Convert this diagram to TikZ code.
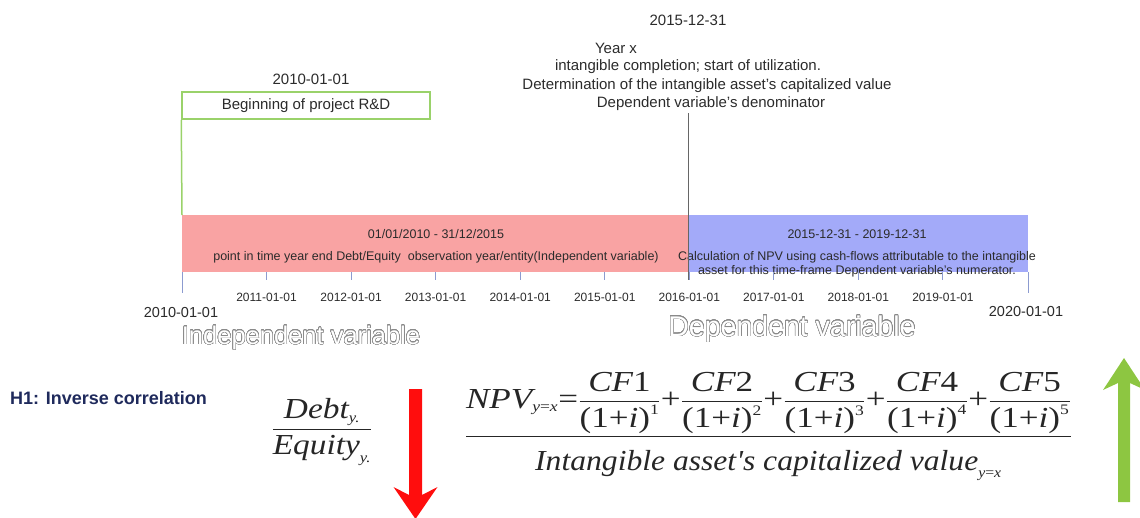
\documentclass[tikz,border=0pt]{standalone}
\usepackage{amsmath}
\usepackage{graphicx}
\usepackage{fontspec}
\setmainfont{Liberation Sans}
\newfontfamily\tnr{Liberation Serif}
\usepackage{contour}
\contourlength{0.5pt}
\contournumber{32}
\definecolor{barred}{HTML}{F9A3A3}
\definecolor{barblue}{HTML}{A3AAF9}
\definecolor{boxgreen}{HTML}{9AD26A}
\definecolor{tickc}{HTML}{8C9BD0}
\definecolor{navy}{HTML}{1F2A5C}
\definecolor{txt}{HTML}{2B2B2B}
\definecolor{linec}{HTML}{666666}
\definecolor{arrred}{HTML}{FF0D0D}
\definecolor{arrgreen}{HTML}{8DC641}
\definecolor{outl}{HTML}{8A8A8A}
\newcommand{\mi}[1]{\text{\tnr\itshape #1}}
\newcommand{\mr}[1]{\text{\tnr #1}}
\newcommand{\cf}[2]{\dfrac{\mi{CF}\mr{#1}}{\mr{(1+}\mi{i}\mr{)}^{\scriptscriptstyle\mr{#2}}}}
\tikzset{
  toptext/.style={text=txt, font=\fontsize{15}{18}\selectfont, inner sep=0pt},
  bartext/.style={text=txt, font=\fontsize{12.5}{15}\selectfont, inner sep=0pt},
  ticklabel/.style={text=txt, font=\fontsize{12}{14}\selectfont, inner sep=0pt},
  endlabel/.style={text=txt, font=\fontsize{14.5}{17}\selectfont, inner sep=0pt},
  outlined/.style={inner sep=0pt, text=white},
  tickline/.style={draw=tickc, line width=1pt},
  barbox/.style={draw=none, anchor=north west, inner sep=0pt, minimum height=57pt},
  formula/.style={inner sep=0pt, text=black!85},
}
\begin{document}
\begin{tikzpicture}[x=1pt,y=-1pt]
\useasboundingbox (0,0) rectangle (1140,517);

% bars
\node[barbox, fill=barred, minimum width=507pt] (redbar) at (182,215) {};
\node[barbox, fill=barblue, minimum width=339pt] (bluebar) at (689,215) {};

% bar texts
\node[bartext] (rt1) at (436,234) {01/01/2010 - 31/12/2015};
\node[bartext] (rt2) at (436,257) {point in time year end Debt/Equity\ \ observation year/entity(Independent variable)};
\node[bartext] (bt1) at (857,234) {2015-12-31 - 2019-12-31};
\node[bartext, align=center] (bt2) at (857,264.5) {Calculation of NPV using cash-flows attributable to the intangible\\[-1.5pt]asset for this time-frame Dependent variable's numerator.};

% ticks
\foreach \i/\lab in {1/2011,2/2012,3/2013,4/2014,5/2015,6/2016,7/2017,8/2018,9/2019}{
  \draw[tickline] (182+84.55*\i,272) -- (182+84.55*\i,280);
  \node[ticklabel] (tl\i) at (182+84.55*\i,297) {\lab-01-01};
}
\draw[tickline] (redbar.south west) -- ++(0,21);
\draw[tickline] (bluebar.south east) -- ++(0,21);
\node[endlabel] (l2010) at (181,313) {2010-01-01};
\node[endlabel] (l2020) at (1026,312) {2020-01-01};

% green box
\node[draw=boxgreen, line width=1.5pt, minimum width=248pt, minimum height=27pt, inner sep=0pt, toptext] (rd) at (306,105.5) {Beginning of project R\&D};
\node[toptext] (d2010) at (311,79) {2010-01-01};
\draw[boxgreen, line width=1.5pt] (rd.south west) -- (redbar.north west);

% year x block
\node[toptext] (d2015) at (688,20) {2015-12-31};
\node[toptext] (yx1) at (616,48) {Year x};
\node[toptext] (yx2) at (688,67) {intangible completion; start of utilization.};
\node[toptext] (yx3) at (707,86) {Determination of the intangible asset's capitalized value};
\node[toptext] (yx4) at (711,104) {Dependent variable's denominator};
\coordinate (vtop) at (688.5,113);
\coordinate (vbot) at (688.5,280);
\draw[linec, line width=1pt] (vtop) -- (vbot);

% outlined labels
\node[outlined, font=\fontsize{25.5}{30}\selectfont] (iv) at (301,338) {\contour{outl}{Independent variable}};
\node[outlined, font=\fontsize{28.5}{33}\selectfont] (dv) at (792,329) {\contour{outl}{Dependent variable}};

% hypothesis
\node[anchor=west, inner sep=0pt, text=navy, font=\bfseries\fontsize{18}{21}\selectfont] (h1) at (10,398) {H1: Inverse correlation};

% Debt / Equity
\node[formula, font=\fontsize{29}{34}\selectfont] (de) at (322,432)
  {\scalebox{1.15}[1]{$\dfrac{\mi{Debt}_{\scriptscriptstyle\mi{y.}}}{\mi{Equity}_{\scriptscriptstyle\mi{y.}}\rule{0pt}{22pt}}$}};

% NPV formula
\node[formula, font=\fontsize{29}{34}\selectfont, anchor=base] (npv) at (768.5,443)
  {$\dfrac{\scalebox{1.21}[1]{$\displaystyle\mi{NPV}_{\scriptscriptstyle\mi{y}\mr{=}\mi{x}}\mr{=}\cf11\mr{+}\cf22\mr{+}\cf33\mr{+}\cf44\mr{+}\cf55$}}{\scalebox{1.09}[1]{$\mi{Intangible asset's capitalized value}_{\scriptscriptstyle\mi{y}\mr{=}\mi{x}}$}\rule{0pt}{30pt}}$};

% arrows
\fill[arrred] (409,389) -- (422,389) -- (422,495) -- (437.5,487) -- (415.5,519) -- (393.5,487) -- (409,495) -- cycle;
\fill[arrgreen] (1118,502) -- (1130,502) -- (1130,383) -- (1145,390) -- (1124,358) -- (1103,390) -- (1118,383) -- cycle;
\end{tikzpicture}
\end{document}
